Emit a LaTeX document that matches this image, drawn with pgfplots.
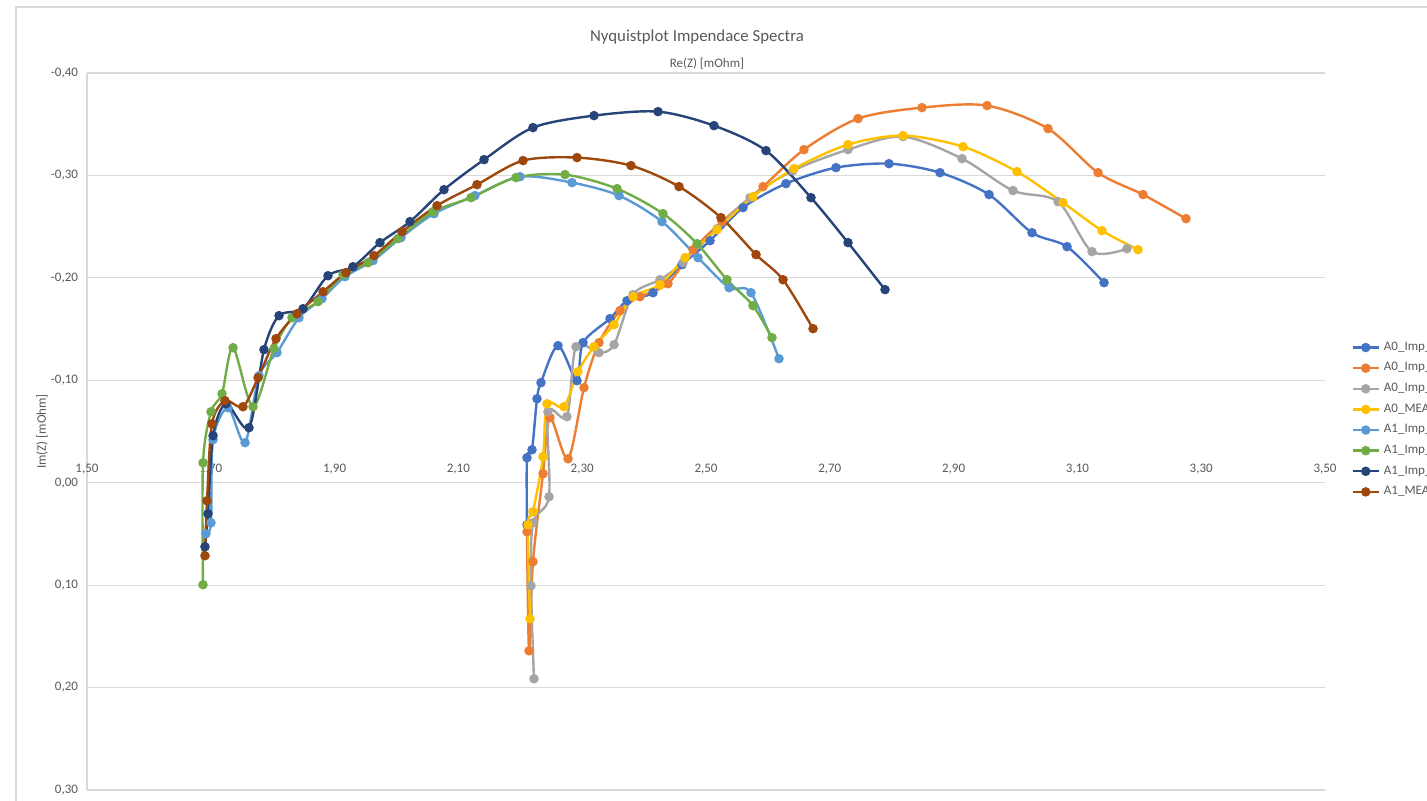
\documentclass[border=0pt]{standalone}
\usepackage{pgfplots}
\pgfplotsset{compat=1.18}
\usepackage{fontspec}
\setmainfont{Carlito}
\definecolor{cAa}{HTML}{4472C4}
\definecolor{cAb}{HTML}{ED7D31}
\definecolor{cAc}{HTML}{A5A5A5}
\definecolor{cAm}{HTML}{FFC000}
\definecolor{cBa}{HTML}{5B9BD5}
\definecolor{cBb}{HTML}{70AD47}
\definecolor{cBc}{HTML}{264478}
\definecolor{cBm}{HTML}{9E480E}
\definecolor{gridgray}{HTML}{D9D9D9}
\definecolor{tickgray}{HTML}{595959}
\begin{document}
\begin{tikzpicture}
\path[use as bounding box] (0,0) rectangle (713.5pt,400.5pt);
\clip (0,0) rectangle (713.5pt,400.5pt);
\draw[gridgray, line width=0.6pt] (8pt,-5pt) -- (8pt,397pt) -- (720pt,397pt);
\begin{axis}[
  at={(43.5pt,5.5pt)}, anchor=south west,
  width=619pt, height=358.5pt, scale only axis,
  xmin=1.5, xmax=3.5, ymin=-0.4, ymax=0.3, y dir=reverse,
  axis x line*=middle, axis y line*=left,
  hide obscured x ticks=false, hide obscured y ticks=false,
  axis line style={draw=gridgray, line width=0.6pt},
  xtick={1.5,1.7,1.9,2.1,2.3,2.5,2.7,2.9,3.1,3.3,3.5},
  xticklabels={{1,50},{1,70},{1,90},{2,10},{2,30},{2,50},{2,70},{2,90},{3,10},{3,30},{3,50}},
  ytick={-0.4,-0.3,-0.2,-0.1,0,0.1,0.2,0.3},
  yticklabels={{-0,40},{-0,30},{-0,20},{-0,10},{0,00},{0,10},{0,20},{0,30}},
  major tick length=0pt,
  ymajorgrids, grid style={draw=gridgray, line width=0.6pt},
  tick label style={font=\fontsize{6.5}{7}\selectfont, text=tickgray},
  xticklabel style={anchor=south, yshift=0.6pt},
  yticklabel style={xshift=-1pt},
  ylabel={Im(Z) [mOhm]},
  every axis y label/.style={at={(rel axis cs:0,0.5)}, xshift=-22.5pt, rotate=90, anchor=center, font=\fontsize{6.5}{7}\selectfont, text=tickgray},
  clip=false,
  legend style={at={(1.0195,0.634)}, anchor=north west, draw=none, fill=none,
    font=\fontsize{6.5}{7}\selectfont, text=tickgray, row sep=0.6pt, inner sep=1pt},
  legend cell align=left,
  legend image code/.code={\draw[mark repeat=2,mark phase=2] plot coordinates {(0pt,0pt)(6.5pt,0pt)(13pt,0pt)};},
  every axis plot/.append style={smooth, tension=0.5, line width=1.2pt, mark=*, mark size=1.75pt, mark options={solid}},
]
\addplot[color=cAa, mark options={fill=cAa}] coordinates {
(2.2108,0.0410)(2.2108,-0.0244)(2.2189,-0.0322)(2.2270,-0.0820)(2.2334,-0.0977)
(2.2609,-0.1338)(2.2916,-0.0996)(2.3013,-0.1367)(2.3449,-0.1602)(2.3724,-0.1777)
(2.4144,-0.1855)(2.4612,-0.2129)(2.5065,-0.2363)(2.5598,-0.2686)(2.6292,-0.2920)
(2.7100,-0.3076)(2.7956,-0.3115)(2.8780,-0.3027)(2.9572,-0.2813)(3.0266,-0.2441)
(3.0832,-0.2305)(3.1430,-0.1953)};
\addlegendentry{A0\_Imp\_0}
\addplot[color=cAb, mark options={fill=cAb}] coordinates {
(2.2108,0.0479)(2.2141,0.1641)(2.2205,0.0771)(2.2367,-0.0088)(2.2480,-0.0635)
(2.2771,-0.0234)(2.3029,-0.0928)(2.3271,-0.1367)(2.3611,-0.1680)(2.3934,-0.1816)
(2.4386,-0.1943)(2.4790,-0.2275)(2.5258,-0.2549)(2.5921,-0.2891)(2.6583,-0.3252)
(2.7456,-0.3555)(2.8489,-0.3662)(2.9540,-0.3682)(3.0525,-0.3457)(3.1333,-0.3027)
(3.2060,-0.2813)(3.2754,-0.2578)};
\addlegendentry{A0\_Imp\_1}
\addplot[color=cAc, mark options={fill=cAc}] coordinates {
(2.2221,0.1914)(2.2173,0.1006)(2.2205,0.0391)(2.2464,0.0137)(2.2447,-0.0693)
(2.2754,-0.0645)(2.2900,-0.1328)(2.3271,-0.1270)(2.3514,-0.1348)(2.3821,-0.1836)
(2.4257,-0.1982)(2.4628,-0.2148)(2.5178,-0.2480)(2.5711,-0.2783)(2.6405,-0.3047)
(2.7294,-0.3252)(2.8183,-0.3379)(2.9136,-0.3164)(2.9960,-0.2852)(3.0687,-0.2744)
(3.1236,-0.2256)(3.1801,-0.2285)};
\addlegendentry{A0\_Imp\_2}
\addplot[color=cAm, mark options={fill=cAm}] coordinates {
(2.2157,0.1328)(2.2124,0.0410)(2.2205,0.0283)(2.2367,-0.0254)(2.2431,-0.0771)
(2.2706,-0.0742)(2.2932,-0.1084)(2.3191,-0.1328)(2.3514,-0.1543)(2.3821,-0.1816)
(2.4257,-0.1934)(2.4661,-0.2197)(2.5178,-0.2471)(2.5759,-0.2793)(2.6422,-0.3066)
(2.7294,-0.3301)(2.8183,-0.3389)(2.9152,-0.3281)(3.0024,-0.3037)(3.0767,-0.2734)
(3.1397,-0.2461)(3.1979,-0.2275)};
\addlegendentry{A0\_MEAN}
\addplot[color=cBa, mark options={fill=cBa}] coordinates {
(1.6922,0.0498)(1.7003,0.0391)(1.7036,-0.0420)(1.7278,-0.0732)(1.7553,-0.0391)
(1.7779,-0.1045)(1.8069,-0.1270)(1.8425,-0.1611)(1.8796,-0.1797)(1.9168,-0.2012)
(1.9620,-0.2168)(2.0073,-0.2393)(2.0606,-0.2627)(2.1268,-0.2803)(2.1995,-0.2988)
(2.2835,-0.2930)(2.3595,-0.2803)(2.4289,-0.2549)(2.4871,-0.2197)(2.5372,-0.1904)
(2.5727,-0.1855)(2.6179,-0.1211)};
\addlegendentry{A1\_Imp\_0}
\addplot[color=cBb, mark options={fill=cBb}] coordinates {
(1.6874,0.0996)(1.6874,-0.0195)(1.7003,-0.0693)(1.7181,-0.0869)(1.7359,-0.1318)
(1.7682,-0.0742)(1.8021,-0.1309)(1.8312,-0.1611)(1.8732,-0.1768)(1.9136,-0.2031)
(1.9540,-0.2148)(2.0024,-0.2383)(2.0590,-0.2646)(2.1204,-0.2783)(2.1931,-0.2979)
(2.2722,-0.3008)(2.3562,-0.2871)(2.4305,-0.2627)(2.4855,-0.2334)(2.5339,-0.1982)
(2.5759,-0.1729)(2.6066,-0.1416)};
\addlegendentry{A1\_Imp\_1}
\addplot[color=cBc, mark options={fill=cBc}] coordinates {
(1.6906,0.0625)(1.6955,0.0303)(1.7036,-0.0459)(1.7246,-0.0771)(1.7617,-0.0537)
(1.7859,-0.1299)(1.8102,-0.1631)(1.8490,-0.1699)(1.8893,-0.2021)(1.9297,-0.2109)
(1.9733,-0.2344)(2.0218,-0.2549)(2.0767,-0.2861)(2.1414,-0.3154)(2.2205,-0.3467)
(2.3191,-0.3584)(2.4225,-0.3623)(2.5129,-0.3486)(2.5969,-0.3242)(2.6696,-0.2783)
(2.7294,-0.2344)(2.7892,-0.1885)};
\addlegendentry{A1\_Imp\_2}
\addplot[color=cBm, mark options={fill=cBm}] coordinates {
(1.6906,0.0713)(1.6939,0.0176)(1.7019,-0.0576)(1.7229,-0.0801)(1.7520,-0.0742)
(1.7763,-0.1025)(1.8053,-0.1406)(1.8393,-0.1650)(1.8813,-0.1865)(1.9184,-0.2051)
(1.9637,-0.2217)(2.0089,-0.2451)(2.0654,-0.2705)(2.1300,-0.2910)(2.2044,-0.3145)
(2.2916,-0.3174)(2.3788,-0.3096)(2.4564,-0.2891)(2.5242,-0.2588)(2.5808,-0.2227)
(2.6244,-0.1982)(2.6729,-0.1504)};
\addlegendentry{A1\_MEAN}
\node[font=\fontsize{8.4}{10}\selectfont, text=tickgray] at (rel axis cs:0.4927,1.050) {Nyquistplot Impendace Spectra};
\node[font=\fontsize{6.5}{7}\selectfont, text=tickgray] at (rel axis cs:0.5008,1.0126) {Re(Z) [mOhm]};
\end{axis}
\end{tikzpicture}
\end{document}
